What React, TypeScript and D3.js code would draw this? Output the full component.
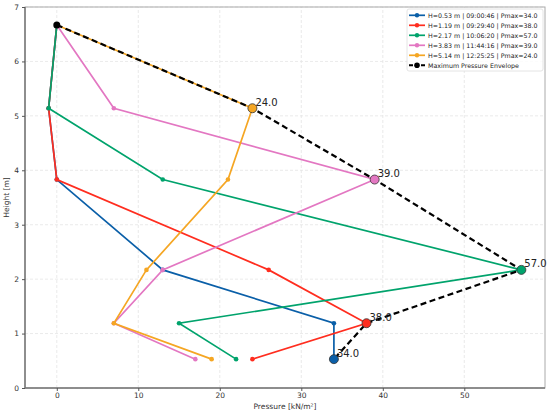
import React, { useEffect, useRef } from 'react';
import * as d3 from 'd3';

interface Pt {
  p: number;
  h: number;
}

const heights = [0.53, 1.19, 2.17, 3.83, 5.14, 6.67];

const seriesLabels = [
  'H=0.53 m | 09:00:46 | Pmax=34.0',
  'H=1.19 m | 09:29:40 | Pmax=38.0',
  'H=2.17 m | 10:06:20 | Pmax=57.0',
  'H=3.83 m | 11:44:16 | Pmax=39.0',
  'H=5.14 m | 12:25:25 | Pmax=24.0',
];
const colors = ['#0a5fa8', '#ff2d1f', '#00a36c', '#e377c2', '#f5a623'];

// pressure at each height, one row per series
const pressures = [
  [34, 34, 13, 0, -1, 0],
  [24, 38, 26, 0, -1, 0],
  [22, 15, 57, 13, -1, 0],
  [17, 7, 13, 39, 7, 0],
  [19, 7, 11, 21, 24, 0],
];
const maxIndex = [0, 1, 2, 3, 4];

const envelopeP = [0, 24, 39, 57, 38, 34];
const envelopeH = [6.67, 5.14, 3.83, 2.17, 1.19, 0.53];

const xTicks = [0, 10, 20, 30, 40, 50];
const yTicks = [0, 1, 2, 3, 4, 5, 6, 7];

const App: React.FC = () => {
  const ref = useRef<SVGSVGElement>(null);

  useEffect(() => {
    const svg = d3.select(ref.current);
    svg.selectAll('*').remove();
    const font = 'DejaVu Sans, sans-serif';

    const margin = { top: 7, right: 5, bottom: 25, left: 25 };
    const W = 550;
    const H = 413;
    const x = d3.scaleLinear().domain([-3.9, 59.9]).range([margin.left, W - margin.right]);
    const y = d3.scaleLinear().domain([0, 7]).range([H - margin.bottom, margin.top]);

    // grid
    const grid = svg.append('g');
    xTicks.forEach((t) => {
      grid.append('line')
        .attr('x1', x(t)).attr('x2', x(t))
        .attr('y1', y(0)).attr('y2', y(7))
        .attr('stroke', '#e4e4e4').attr('stroke-width', 0.8).attr('stroke-dasharray', '3,2');
    });
    yTicks.forEach((t) => {
      grid.append('line')
        .attr('x1', x(-3.9)).attr('x2', x(59.9))
        .attr('y1', y(t)).attr('y2', y(t))
        .attr('stroke', '#e4e4e4').attr('stroke-width', 0.8).attr('stroke-dasharray', '3,2');
    });

    // spines
    svg.append('rect')
      .attr('x', margin.left).attr('y', margin.top)
      .attr('width', W - margin.left - margin.right)
      .attr('height', H - margin.top - margin.bottom)
      .attr('fill', 'none').attr('stroke', '#aaa').attr('stroke-width', 1);
    svg.append('path')
      .attr('d', `M${margin.left},${margin.top}V${H - margin.bottom}H${W - margin.right}`)
      .attr('fill', 'none').attr('stroke', '#777').attr('stroke-width', 1.5);

    // axes
    const xAxis = svg.append('g')
      .attr('transform', `translate(0,${H - margin.bottom})`)
      .call(d3.axisBottom(x).tickValues(xTicks).tickSize(3).tickPadding(2).tickFormat(d3.format('d')));
    const yAxis = svg.append('g')
      .attr('transform', `translate(${margin.left},0)`)
      .call(d3.axisLeft(y).tickValues(yTicks).tickSize(3).tickFormat(d3.format('d')));
    [xAxis, yAxis].forEach((a) => {
      a.select('.domain').remove();
      a.selectAll('line').attr('stroke', '#555');
      a.selectAll('text').attr('font-family', font).attr('font-size', 7.5).attr('fill', '#333');
    });

    svg.append('text')
      .attr('x', (margin.left + W - margin.right) / 2).attr('y', 409)
      .attr('text-anchor', 'middle').attr('font-family', font).attr('font-size', 7.5).attr('fill', '#333')
      .text('Pressure [kN/m²]');
    svg.append('text')
      .attr('transform', `translate(9,${(margin.top + H - margin.bottom) / 2}) rotate(-90)`)
      .attr('text-anchor', 'middle').attr('font-family', font).attr('font-size', 7.5).attr('fill', '#333')
      .text('Height [m]');

    const line = d3.line<Pt>().x((d) => x(d.p)).y((d) => y(d.h));

    // series
    pressures.forEach((row, i) => {
      const pts: Pt[] = row.map((p, j) => ({ p, h: heights[j] }));
      svg.append('path')
        .datum(pts)
        .attr('fill', 'none').attr('stroke', colors[i]).attr('stroke-width', 1.7)
        .attr('d', line);
      svg.append('g').selectAll('circle')
        .data(pts)
        .join('circle')
        .attr('cx', (d) => x(d.p)).attr('cy', (d) => y(d.h))
        .attr('r', 2.3).attr('fill', colors[i]);
    });

    // envelope
    const env: Pt[] = envelopeP.map((p, j) => ({ p, h: envelopeH[j] }));
    svg.append('path')
      .datum(env)
      .attr('fill', 'none').attr('stroke', '#000').attr('stroke-width', 2.2)
      .attr('stroke-dasharray', '6,3.5')
      .attr('d', line);
    svg.append('g').selectAll('circle')
      .data(env)
      .join('circle')
      .attr('cx', (d) => x(d.p)).attr('cy', (d) => y(d.h))
      .attr('r', 3.5).attr('fill', '#000');

    // max markers + labels
    pressures.forEach((row, i) => {
      const j = maxIndex[i];
      const p = row[j];
      const h = heights[j];
      svg.append('circle')
        .attr('cx', x(p)).attr('cy', y(h)).attr('r', 4.5)
        .attr('fill', colors[i]).attr('stroke', '#333').attr('stroke-width', 0.8);
      svg.append('text')
        .attr('x', x(p) + 3).attr('y', y(h) - 2.5)
        .attr('font-family', font).attr('font-size', 10).attr('fill', '#222')
        .text(p.toFixed(1));
    });

    // legend
    const lg = svg.append('g').attr('transform', 'translate(407,9)');
    lg.append('rect')
      .attr('width', 136).attr('height', 62).attr('rx', 2)
      .attr('fill', 'rgba(255,255,255,0.85)').attr('stroke', '#ddd').attr('stroke-width', 0.8);
    const legendItems = [...seriesLabels, 'Maximum Pressure Envelope'];
    const legendColors = [...colors, '#000'];
    legendItems.forEach((label, i) => {
      const yy = 6.3 + i * 10;
      const isEnv = i === legendItems.length - 1;
      lg.append('line')
        .attr('x1', 2).attr('x2', 18).attr('y1', yy).attr('y2', yy)
        .attr('stroke', legendColors[i]).attr('stroke-width', isEnv ? 2 : 1.7)
        .attr('stroke-dasharray', isEnv ? '4,2' : null);
      lg.append('circle')
        .attr('cx', 10).attr('cy', yy).attr('r', isEnv ? 2.8 : 2.2).attr('fill', legendColors[i]);
      lg.append('text')
        .attr('x', 21).attr('y', yy + 2.3)
        .attr('font-family', font).attr('font-size', 6.3).attr('fill', '#222')
        .text(label);
    });
  }, []);

  return (
    <div style={{ position: 'absolute', left: 0, top: 0 }}>
      <svg ref={ref} width={550} height={413} style={{ display: 'block', background: '#fff' }} />
    </div>
  );
};

export default App;
